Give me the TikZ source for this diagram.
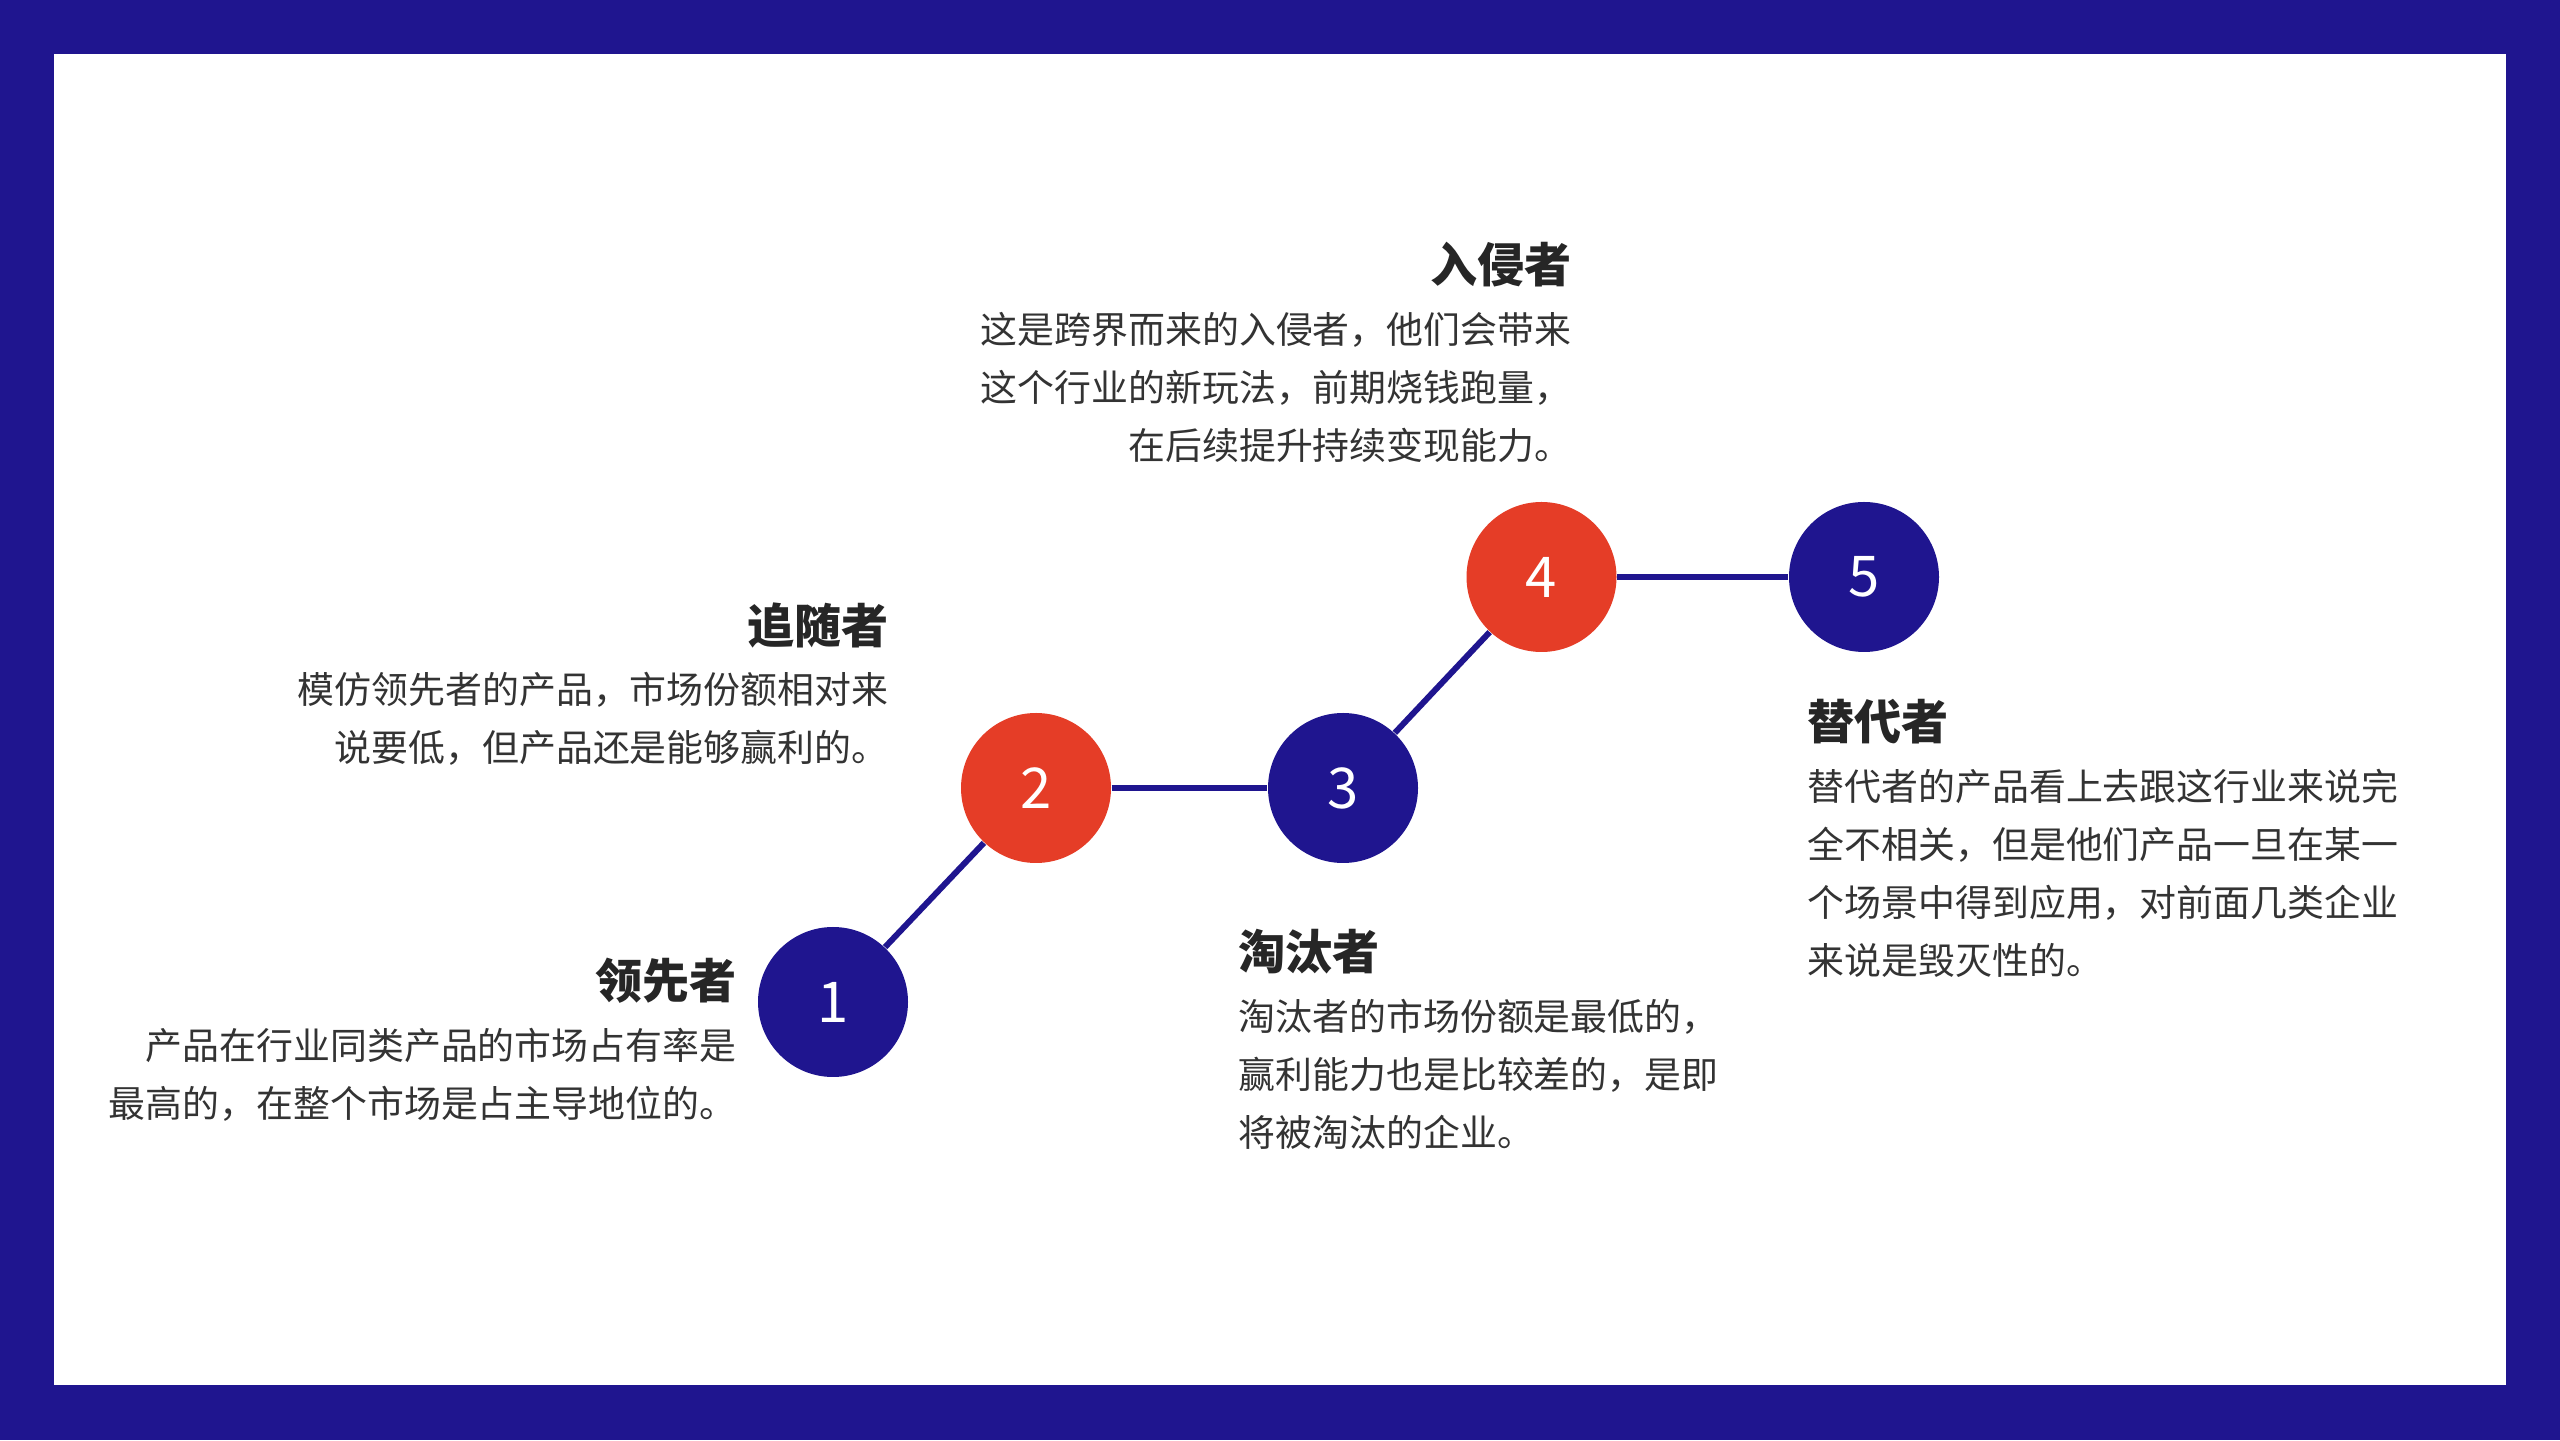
\documentclass[tikz,border=0pt]{standalone}
\usepackage{fontspec}
\setmainfont{Noto Sans CJK SC}
\usepackage{tikz}
\usetikzlibrary{positioning}
\definecolor{roleblue}{RGB}{31,21,143}
\definecolor{rolered}{RGB}{229,61,39}
\definecolor{roletext}{RGB}{51,51,51}
\definecolor{roledark}{RGB}{38,38,38}
\tikzset{
  roledot/.style={
    circle,
    minimum size=1.5cm,
    inner sep=0pt,
    text=white,
    font=\fontsize{16}{16}\selectfont
  },
  roletitle/.style={
    inner sep=0pt,
    text=roledark,
    font=\fontsize{13.4}{16}\selectfont\bfseries
  },
  rolebody/.style={
    inner sep=0pt,
    text=roletext,
    font=\fontsize{10.5}{16.5}\selectfont
  },
  rolelink/.style={
    draw=roleblue,
    line width=1.7pt
  }
}

\begin{document}
\begin{tikzpicture}
% frame
\fill[roleblue] (0,0) rectangle (25.6,14.4);
\fill[white] (0.54,0.55) rectangle (25.06,13.86);
\useasboundingbox (0,0) rectangle (25.6,14.4);

% steps
\node[roledot, fill=roleblue] (c1) at (8.33,4.38) {1};
\node[roledot, fill=rolered] (c2) at (10.36,6.52) {2};
\node[roledot, fill=roleblue] (c3) at (13.43,6.52) {3};
\node[roledot, fill=rolered] (c4) at (15.415,8.63) {4};
\node[roledot, fill=roleblue] (c5) at (18.64,8.63) {5};

\draw[rolelink] (c1) -- (c2);
\draw[rolelink] (c2) -- (c3);
\draw[rolelink] (c3) -- (c4);
\draw[rolelink] (c4) -- (c5);

% labels
\node[roletitle, anchor=east] (t1) at (7.37,4.59) {领先者};
\node[rolebody, align=right, below=0.23cm of t1.south east, anchor=north east] (b1)
  {产品在行业同类产品的市场占有率是\\最高的，在整个市场是占主导地位的。};

\node[roletitle, anchor=east] (t2) at (8.89,8.15) {追随者};
\node[rolebody, align=right, below=0.23cm of t2.south east, anchor=north east] (b2)
  {模仿领先者的产品，市场份额相对来\\说要低，但产品还是能够赢利的。};

\node[roletitle, anchor=west] (t3) at (12.38,4.88) {淘汰者};
\node[rolebody, align=left, below=0.23cm of t3.south west, anchor=north west] (b3)
  {淘汰者的市场份额是最低的，\\赢利能力也是比较差的，是即\\将被淘汰的企业。};

\node[roletitle, anchor=east] (t4) at (15.72,11.75) {入侵者};
\node[rolebody, align=right, below=0.23cm of t4.south east, anchor=north east] (b4)
  {这是跨界而来的入侵者，他们会带来\\这个行业的新玩法，前期烧钱跑量，\\在后续提升持续变现能力。};

\node[roletitle, anchor=west] (t5) at (18.07,7.18) {替代者};
\node[rolebody, align=left, below=0.23cm of t5.south west, anchor=north west] (b5)
  {替代者的产品看上去跟这行业来说完\\全不相关，但是他们产品一旦在某一\\个场景中得到应用，对前面几类企业\\来说是毁灭性的。};
\end{tikzpicture}
\end{document}
